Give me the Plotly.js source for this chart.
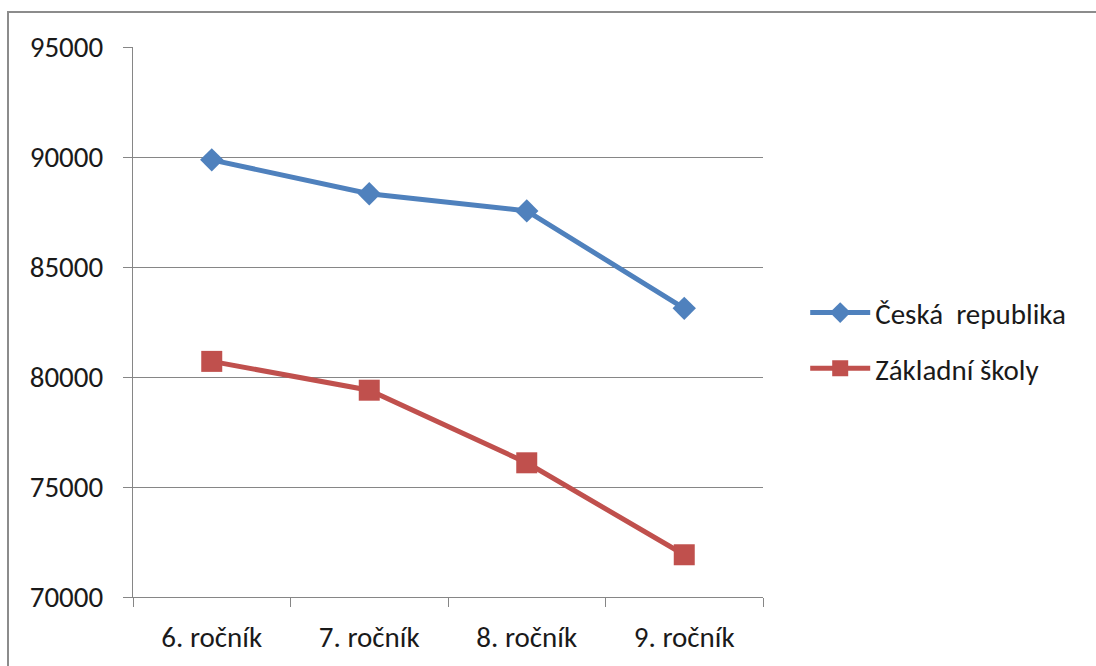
<!DOCTYPE html>
<html>
<head>
<meta charset="utf-8">
<script src="https://cdn.plot.ly/plotly-3.0.1.min.js"></script>
<style>
  html, body { margin: 0; padding: 0; background: #ffffff; overflow: hidden; }
  #wrap { position: relative; width: 1096px; height: 666px; }
  #chart { position: absolute; left: 0; top: 0; width: 1096px; height: 666px; }
  #frame { position: absolute; left: 7px; top: 11px; width: 1200px; height: 800px;
           border-left: 2px solid #8c8c8c; border-top: 2px solid #8c8c8c; pointer-events: none; }
</style>
</head>
<body>
<div id="wrap">
  <div id="chart"></div>
  <div id="frame"></div>
</div>
<script>
// ---- data ----
const categories = ["6. ročník", "7. ročník", "8. ročník", "9. ročník"];
const seriesNames = ["Česká  republika", "Základní školy"];
const ceskaRepublika = [89870, 88330, 87550, 83120];
const zakladniSkoly = [80710, 79400, 76100, 71920];
const yTicks = [70000, 75000, 80000, 85000, 90000, 95000];

const FONT = "Carlito, Calibri, Lato, 'Open Sans', sans-serif";
const FS = 29;

const traces = [
  {
    x: categories, y: ceskaRepublika, name: seriesNames[0],
    type: "scatter", mode: "lines+markers", legendgroup: "a",
    line: { color: "#4F81BD", width: 5 },
    marker: { symbol: "diamond", size: 18, color: "#4F81BD" }
  },
  {
    x: categories, y: zakladniSkoly, name: seriesNames[1],
    type: "scatter", mode: "lines+markers", legendgroup: "b",
    line: { color: "#C0504D", width: 5 },
    marker: { symbol: "square", size: 21, color: "#C0504D" }
  }
];

const layout = {
  width: 1096, height: 666,
  paper_bgcolor: "#ffffff", plot_bgcolor: "#ffffff",
  margin: { l: 133, r: 333, t: 47, b: 69 },
  font: { family: FONT, size: FS, color: "#1a1a1a" },
  showlegend: true,
  legend: {
    x: 1.067, xanchor: "left", y: 0.466, yanchor: "middle",
    traceorder: "grouped", tracegroupgap: 15, itemwidth: 60,
    font: { family: FONT, size: FS, color: "#1a1a1a" },
    bgcolor: "rgba(0,0,0,0)"
  },
  xaxis: {
    type: "category", range: [-0.5, 3.5],
    showgrid: false, zeroline: false,
    showline: true, linecolor: "#868686", linewidth: 1,
    ticks: "outside", tickson: "boundaries", ticklen: 9, tickcolor: "#868686", tickwidth: 1,
    ticklabelstandoff: 14,
    tickfont: { family: FONT, size: FS, color: "#1a1a1a" },
    fixedrange: true
  },
  yaxis: {
    range: [70000, 95000], tickvals: yTicks, ticktext: yTicks.map(String),
    showgrid: true, gridcolor: "#868686", gridwidth: 1,
    zeroline: false,
    showline: true, linecolor: "#868686", linewidth: 1,
    ticks: "outside", ticklen: 9, tickcolor: "#868686", tickwidth: 1,
    ticklabelstandoff: 14,
    tickfont: { family: FONT, size: FS, color: "#1a1a1a" },
    fixedrange: true
  }
};

Plotly.newPlot("chart", traces, layout, { staticPlot: true, displayModeBar: false });
</script>
</body>
</html>
